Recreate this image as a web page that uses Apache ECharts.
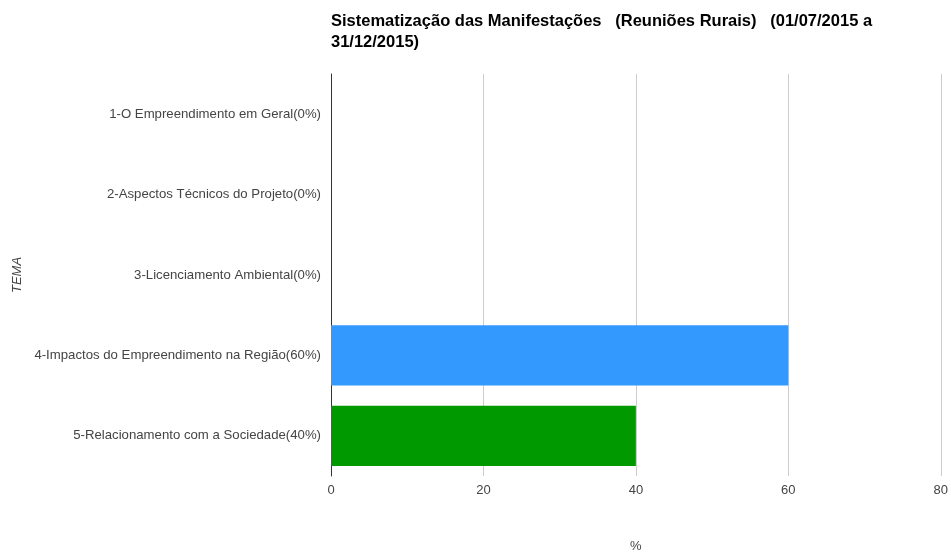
<!DOCTYPE html>
<html>
<head>
<meta charset="utf-8">
<script src="https://cdn.jsdelivr.net/npm/echarts@6/dist/echarts.min.js"></script>
<style>
  html, body { margin: 0; padding: 0; background: #fff; overflow: hidden; }
  #chart { width: 951px; height: 558px; }
</style>
</head>
<body>
<div id="chart"></div>
<script>
const temas = [
  "1-O Empreendimento em Geral(0%)",
  "2-Aspectos Técnicos do Projeto(0%)",
  "3-Licenciamento Ambiental(0%)",
  "4-Impactos do Empreendimento na Região(60%)",
  "5-Relacionamento com a Sociedade(40%)"
];
const percentuais = [0, 0, 0, 60, 40];
const coresBarras = ["#1b5e20", "#1a237e", "#3399ff", "#3399ff", "#009900"];
const ticksX = [0, 20, 40, 60, 80];

const chart = echarts.init(document.getElementById("chart"));
const option = {
  title: {
    text: "Sistematização das Manifestações   (Reuniões Rurais)   (01/07/2015 a\n31/12/2015)",
    left: 331,
    top: 11,
    padding: 0,
    textStyle: {
      fontFamily: "Liberation Sans",
      fontSize: 16.5,
      fontWeight: "bold",
      color: "#000",
      lineHeight: 21
    }
  },
  grid: {
    left: 331,
    right: 9,
    top: 74,
    bottom: 76,
    containLabel: false
  },
  xAxis: {
    type: "value",
    min: 0,
    max: 80,
    interval: 20,
    name: "%",
    nameLocation: "middle",
    nameGap: 64,
    nameTextStyle: { fontFamily: "Liberation Sans", fontSize: 13, color: "#444" },
    axisLine: { show: false },
    axisTick: { show: false },
    axisLabel: {
      fontFamily: "Liberation Sans",
      fontSize: 13,
      color: "#444",
      margin: 8,
      formatter: (v) => (ticksX.includes(v) ? String(v) : "")
    },
    splitLine: { show: true, lineStyle: { color: "#cccccc", width: 1 } }
  },
  yAxis: {
    type: "category",
    data: temas,
    inverse: true,
    name: "TEMA",
    nameLocation: "middle",
    nameGap: 307,
    nameRotate: 90,
    nameTextStyle: { fontFamily: "Liberation Sans", fontSize: 13, fontStyle: "italic", color: "#444" },
    axisLine: { show: true, lineStyle: { color: "#333", width: 1 } },
    axisTick: { show: false },
    axisLabel: {
      fontFamily: "Liberation Sans",
      fontSize: 13.2,
      color: "#444",
      margin: 10
    }
  },
  series: [
    {
      type: "bar",
      data: percentuais.map((v, i) => ({ value: v, itemStyle: { color: coresBarras[i] } })),
      barWidth: "75%",
      silent: true
    }
  ]
};
chart.setOption(option);
</script>
</body>
</html>
